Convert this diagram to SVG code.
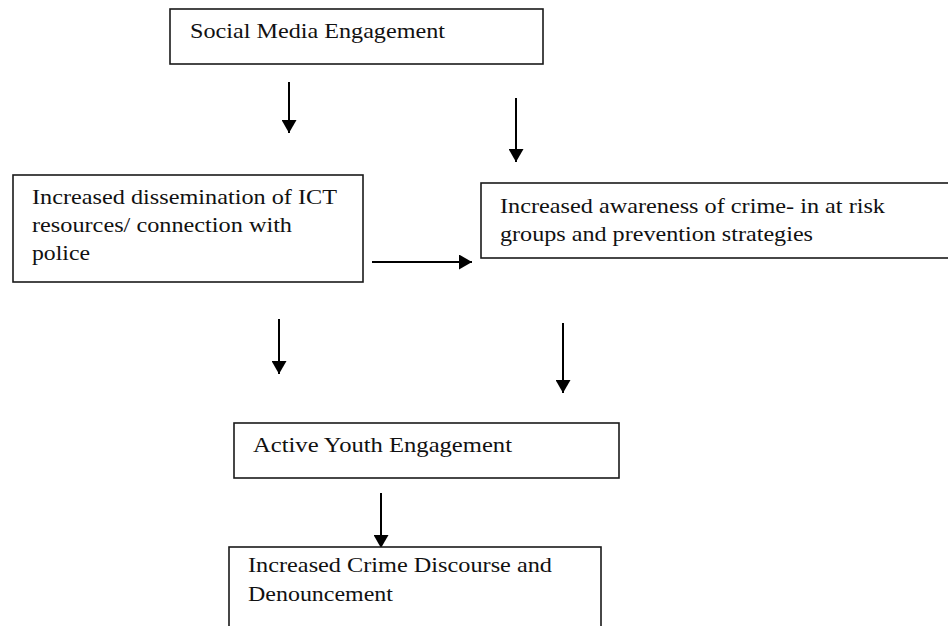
<svg xmlns="http://www.w3.org/2000/svg" width="948" height="626" viewBox="0 0 948 626">
<defs>
<style>
.box{fill:#fff;stroke:#1a1a1a;stroke-width:1.6}
.t{font-family:'Liberation Serif',serif;font-size:21px;fill:#111}
.c{stroke:#000;stroke-width:2;fill:none}
</style>
<marker id="ah" markerUnits="userSpaceOnUse" markerWidth="15" markerHeight="15" refX="13" refY="7.5" orient="auto">
<path d="M0,0 L13,7.5 L0,15 z" fill="#000"/>
</marker>
</defs>
<rect width="948" height="626" fill="#fff"/>
<g id="connectors">
<line class="c" x1="289" y1="82" x2="289" y2="133" marker-end="url(#ah)"/>
<line class="c" x1="516" y1="98" x2="516" y2="162" marker-end="url(#ah)"/>
<line class="c" x1="372" y1="262" x2="472" y2="262" marker-end="url(#ah)"/>
<line class="c" x1="279" y1="319" x2="279" y2="374" marker-end="url(#ah)"/>
<line class="c" x1="563" y1="323" x2="563" y2="393" marker-end="url(#ah)"/>
<line class="c" x1="381" y1="493" x2="381" y2="548" marker-end="url(#ah)"/>
</g>
<g id="social-media">
<rect class="box" x="170" y="9" width="373" height="55"/>
<text class="t" x="190" y="38" textLength="255" lengthAdjust="spacingAndGlyphs">Social Media Engagement</text>
</g>
<g id="ict">
<rect class="box" x="13" y="175" width="350" height="107"/>
<text class="t" x="32" y="204" textLength="305" lengthAdjust="spacingAndGlyphs">Increased dissemination of ICT</text>
<text class="t" x="32" y="232" textLength="260" lengthAdjust="spacingAndGlyphs">resources/ connection with</text>
<text class="t" x="32" y="260" textLength="58" lengthAdjust="spacingAndGlyphs">police</text>
</g>
<g id="awareness">
<rect class="box" x="481" y="183" width="480" height="75"/>
<text class="t" x="500" y="213" textLength="385" lengthAdjust="spacingAndGlyphs">Increased awareness of crime- in at risk</text>
<text class="t" x="500" y="241" textLength="313" lengthAdjust="spacingAndGlyphs">groups and prevention strategies</text>
</g>
<g id="youth">
<rect class="box" x="234" y="423" width="385" height="55"/>
<text class="t" x="253" y="452" textLength="259" lengthAdjust="spacingAndGlyphs">Active Youth Engagement</text>
</g>
<g id="discourse">
<rect class="box" x="229" y="547" width="372" height="100"/>
<text class="t" x="248" y="572" textLength="304" lengthAdjust="spacingAndGlyphs">Increased Crime Discourse and</text>
<text class="t" x="248" y="601" textLength="145" lengthAdjust="spacingAndGlyphs">Denouncement</text>
</g>
</svg>
